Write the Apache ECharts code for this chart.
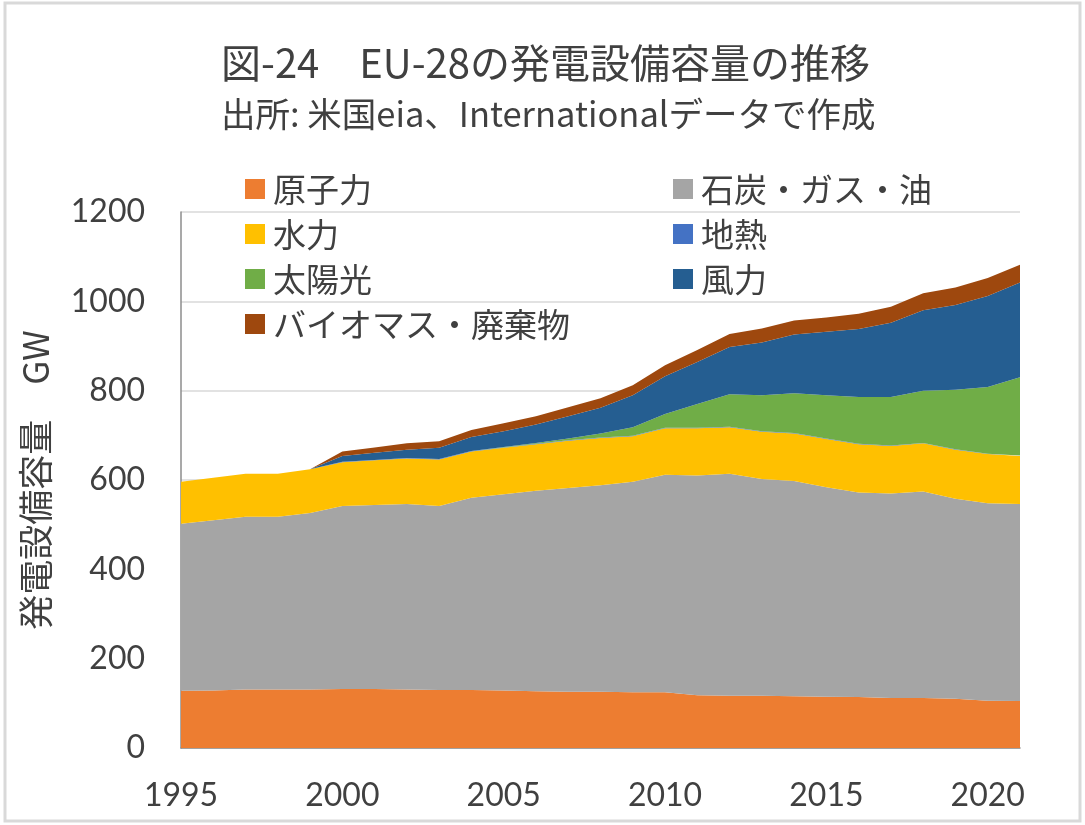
<!DOCTYPE html>
<html>
<head>
<meta charset="utf-8">
<script src="https://cdn.jsdelivr.net/npm/echarts@6/dist/echarts.min.js"></script>
<style>
  body { margin: 0; background: #fff; }
  #chart { width: 1085px; height: 825px; }
</style>
</head>
<body>
<div id="chart"></div>
<script>
var years = ['1995','1996','1997','1998','1999','2000','2001','2002','2003','2004','2005','2006','2007','2008','2009','2010','2011','2012','2013','2014','2015','2016','2017','2018','2019','2020','2021'];
var nuclear = [128,129,131,131,131,132,132,131,130,130,129,127,126,126,125,125,118,117,117,116,115,114,112,112,110,106,105];
var fossil  = [374,381,387,387,395,410,412,415,412,430,439,449,456,462,471,487,492,497,485,482,469,458,458,462,448,442,441];
var hydro   = [94,95,96,96,98,98,100,102,104,104,104,104,106,106,102,104,106,104,106,106,108,108,106,108,110,110,108];
var geo     = [0,0,0,0,0,1,1,1,1,1,1,1,1,1,1,1,1,1,1,1,1,1,1,1,1,1,1];
var solar   = [0,0,0,0,0,0,0,0,0,0,1,2,4,9,19,31,53,73,81,89,97,105,109,117,133,149,175];
var wind    = [0,0,0,0,0,13,16,19,25,31,35,41,50,58,72,84,94,106,118,132,142,152,166,180,190,204,212];
var bio     = [0,0,0,0,0,10,12,14,15,16,18,19,20,21,22,25,27,29,31,31,32,34,36,38,39,40,40];
var yTicks  = [0, 1200, 200];

var jp = '"Noto Sans CJK JP", sans-serif';
var num = 'Lato, "Noto Sans", sans-serif';
var txt = '#404040';

var chart = echarts.init(document.getElementById('chart'));

function area(name, data, color) {
  return {
    name: name,
    type: 'line',
    stack: 'cap',
    data: data,
    symbol: 'none',
    lineStyle: { width: 0 },
    areaStyle: { color: color, opacity: 1 },
    itemStyle: { color: color },
    emphasis: { disabled: true }
  };
}

var legendText = { fontFamily: jp, fontSize: 33, color: txt, lineHeight: 36, padding: [0, 0, 0, 3] };

var option = {
  animation: false,
  graphic: [{
    type: 'rect',
    shape: { x: 5, y: 3, width: 1075, height: 818 },
    style: { fill: 'none', stroke: '#d9d9d9', lineWidth: 3 },
    silent: true
  }],
  title: [
    { text: '図-24　EU-28の発電設備容量の推移', left: 216, top: 34,
      textStyle: { fontFamily: jp, fontSize: 40, fontWeight: 'normal', color: txt, lineHeight: 48 } },
    { text: '出所: 米国eia、Internationalデータで作成', left: 216, top: 88,
      textStyle: { fontFamily: jp, fontSize: 34.5, fontWeight: 'normal', color: txt, lineHeight: 42 } }
  ],
  legend: [
    { orient: 'vertical', left: 240, top: 166, itemWidth: 20, itemHeight: 20, itemGap: 9,
      icon: 'rect', textStyle: legendText, selectedMode: false,
      data: ['原子力', '水力', '太陽光', 'バイオマス・廃棄物'] },
    { orient: 'vertical', left: 668, top: 166, itemWidth: 20, itemHeight: 20, itemGap: 9,
      icon: 'rect', textStyle: legendText, selectedMode: false,
      data: ['石炭・ガス・油', '地熱', '風力'] }
  ],
  grid: { left: 181, right: 65, top: 212, bottom: 77 },
  xAxis: {
    type: 'category',
    boundaryGap: false,
    data: years,
    axisLine: { lineStyle: { color: '#8c8c8c', width: 1.5 } },
    axisTick: { inside: true, length: 9, interval: 4, lineStyle: { color: '#8c8c8c' } },
    axisLabel: { interval: 4, margin: 32, fontFamily: num, fontSize: 32, color: txt },
    splitLine: { show: false }
  },
  yAxis: {
    type: 'value',
    min: yTicks[0],
    max: yTicks[1],
    interval: yTicks[2],
    name: '発電設備容量　GW',
    nameLocation: 'middle',
    nameRotate: 90,
    nameGap: 128,
    nameTextStyle: { fontFamily: jp, fontSize: 35, color: txt },
    axisLine: { show: true, lineStyle: { color: '#8c8c8c', width: 1.5 } },
    axisTick: { show: false },
    axisLabel: { margin: 36, fontFamily: num, fontSize: 32, color: txt,
      formatter: function (v) { return String(v); } },
    splitLine: { lineStyle: { color: '#d9d9d9', width: 1.5 } }
  },
  series: [
    area('原子力', nuclear, '#ED7D31'),
    area('石炭・ガス・油', fossil, '#A5A5A5'),
    area('水力', hydro, '#FFC000'),
    area('地熱', geo, '#4472C4'),
    area('太陽光', solar, '#70AD47'),
    area('風力', wind, '#255E91'),
    area('バイオマス・廃棄物', bio, '#9E480E')
  ]
};

chart.setOption(option);
window.onresize = function () { chart.resize(); };
</script>
</body>
</html>
